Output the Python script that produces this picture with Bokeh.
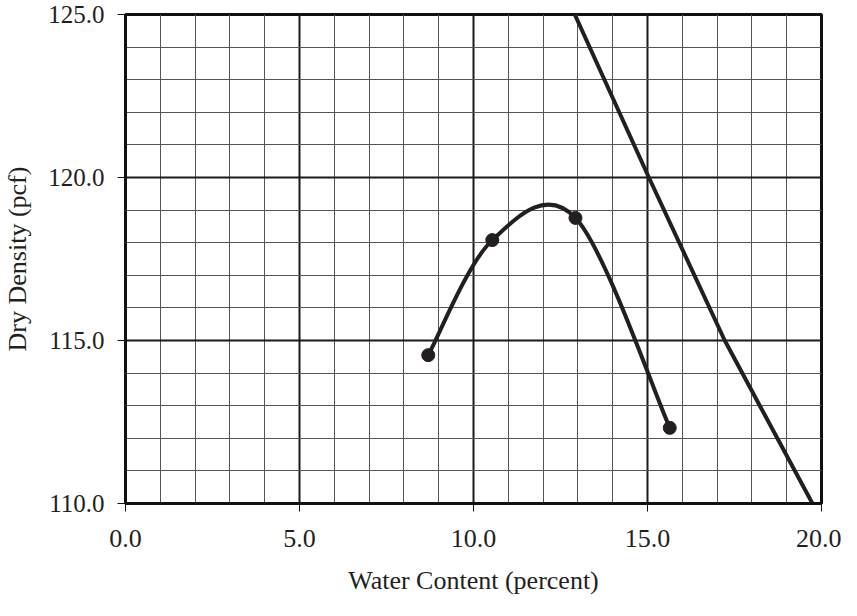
from bokeh.plotting import figure
from bokeh.models import (ColumnDataSource, SingleIntervalTicker, PrintfTickFormatter, Range1d)
from bokeh.embed import file_html
from bokeh.resources import INLINE

# Compaction test data
water_content = [8.7, 10.54, 12.93, 15.64]
dry_density = [114.55, 118.08, 118.76, 112.32]

# Zero-air-voids line
zav_water = [12.91, 15.04, 17.22, 19.74]
zav_density = [125.0, 120.0, 115.0, 110.0]

x_label = "Water Content (percent)"
y_label = "Dry Density (pcf)"

INK = "#231f20"
FONT = "Liberation Serif"

p = figure(width=841, height=600, output_backend="svg", toolbar_location=None,
           x_range=Range1d(0, 20), y_range=Range1d(110, 125),
           min_border_left=123, min_border_right=20, min_border_top=14, min_border_bottom=97)
p.background_fill_color = "white"
p.border_fill_color = "white"
p.outline_line_color = "#111111"
p.outline_line_width = 3

for ax, interval in ((p.xaxis[0], 5), (p.yaxis[0], 5)):
    ax.ticker = SingleIntervalTicker(interval=interval, num_minor_ticks=5)
    ax.formatter = PrintfTickFormatter(format="%.1f")
    ax.major_label_text_font = FONT
    ax.major_label_text_font_size = "26px"
    ax.major_label_text_color = INK
    ax.axis_label_text_font = FONT
    ax.axis_label_text_font_size = "26px"
    ax.axis_label_text_font_style = "normal"
    ax.axis_label_text_color = INK
    ax.major_tick_out = 8
    ax.major_tick_in = 0
    ax.minor_tick_out = 0
    ax.minor_tick_in = 0
    ax.major_tick_line_color = "#111111"
    ax.major_tick_line_width = 1
    ax.axis_line_color = "#111111"
    ax.axis_line_width = 3

p.yaxis.major_label_text_font_size = "25px"
p.xaxis.axis_label = x_label
p.yaxis.axis_label = y_label
p.xaxis.major_label_standoff = 18
p.xaxis.axis_label_standoff = 16
p.yaxis.major_label_standoff = 13
p.yaxis.axis_label_standoff = 13

for g, interval in ((p.xgrid[0], 5), (p.ygrid[0], 5)):
    g.ticker = SingleIntervalTicker(interval=interval, num_minor_ticks=5)
    g.grid_line_color = "#1a1a1a"
    g.grid_line_width = 2
    g.minor_grid_line_color = "#555555"
    g.minor_grid_line_width = 1

# Smoothed curve (Excel-style Bezier through the points)
n = len(water_content)
bx0, by0, bx1, by1, cx0, cy0, cx1, cy1 = ([] for _ in range(8))
for i in range(n - 1):
    pm = max(i - 1, 0)
    pn = min(i + 2, n - 1)
    x0, y0 = water_content[i], dry_density[i]
    x1, y1 = water_content[i + 1], dry_density[i + 1]
    bx0.append(x0); by0.append(y0); bx1.append(x1); by1.append(y1)
    cx0.append(x0 + (water_content[i + 1] - water_content[pm]) / 6)
    cy0.append(y0 + (dry_density[i + 1] - dry_density[pm]) / 6)
    cx1.append(x1 - (water_content[pn] - water_content[i]) / 6)
    cy1.append(y1 - (dry_density[pn] - dry_density[i]) / 6)

bez = ColumnDataSource(dict(x0=bx0, y0=by0, x1=bx1, y1=by1, cx0=cx0, cy0=cy0, cx1=cx1, cy1=cy1))
p.bezier(x0="x0", y0="y0", x1="x1", y1="y1", cx0="cx0", cy0="cy0", cx1="cx1", cy1="cy1",
         source=bez, line_color=INK, line_width=4)

p.scatter(water_content, dry_density, size=13, marker="circle",
          fill_color=INK, line_color=INK)

p.line(zav_water, zav_density, line_color=INK, line_width=4)

open("out.html", "w").write(file_html(p, INLINE))
